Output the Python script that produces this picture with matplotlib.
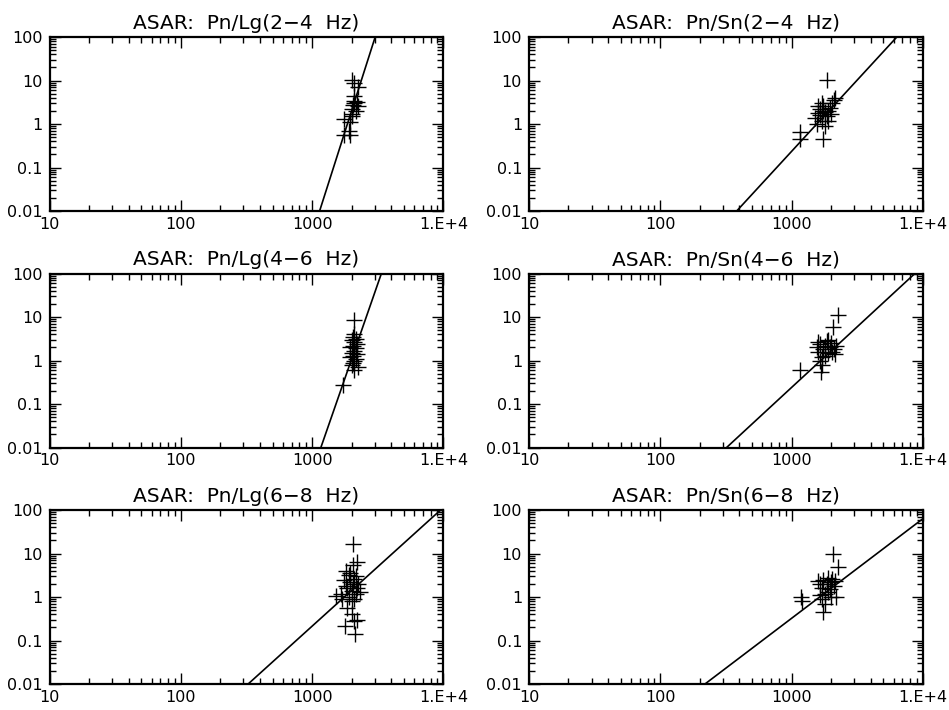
import numpy as np
import matplotlib
matplotlib.use("Agg")
import matplotlib.pyplot as plt
from matplotlib.ticker import LogLocator, NullFormatter

plt.rcParams['font.family'] = ['DejaVu Sans']

titles = ["ASAR:  Pn/Lg(2\u22124  Hz)", "ASAR:  Pn/Sn(2\u22124  Hz)",
          "ASAR:  Pn/Lg(4\u22126  Hz)", "ASAR:  Pn/Sn(4\u22126  Hz)",
          "ASAR:  Pn/Lg(6\u22128  Hz)", "ASAR:  Pn/Sn(6\u22128  Hz)"]

# fitted lines: log10(y) = a + b*log10(x)
fit_a = [-30.89, -10.47, -28.62, -8.99, -8.86, -7.36]
fit_b = [9.45, 3.28, 8.68, 2.79, 2.73, 2.29]

# Pn/Lg 2-4 Hz
x1 = [2000, 2100, 2250, 2070, 2250, 2000, 2015, 1740, 1740, 1950, 2100, 2150, 2000,
      1950, 2100, 2200, 2050, 1900]
y1 = [10.4, 9.0, 7.0, 3.4, 2.6, 2.2, 1.7, 1.3, 0.56, 0.56, 3.0, 2.0, 1.5,
      1.1, 4.5, 3.2, 2.8, 0.7]
# Pn/Sn 2-4 Hz
x2 = [1850, 1160, 1160, 1740, 1520, 1550, 1600, 1650, 1700, 1750, 1800, 1850, 1900,
      1950, 2000, 2100, 2150, 2050, 1700, 1800, 1650, 1750, 1900, 1600]
y2 = [10.5, 0.65, 0.45, 0.46, 1.4, 1.0, 1.8, 2.2, 3.0, 2.6, 1.9, 1.5, 2.0,
      2.4, 1.7, 3.5, 4.0, 3.0, 1.2, 0.9, 1.6, 2.0, 1.2, 2.6]
# Pn/Lg 4-6 Hz
x3 = [2070, 1730, 2100, 2050, 2150, 2000, 2100, 2200, 2050, 1950, 2150, 2100, 2000,
      2200, 2050, 1950, 2150, 2100, 2050, 2000, 2250, 2100]
y3 = [8.6, 0.27, 4.0, 3.5, 3.2, 3.0, 2.6, 2.4, 2.2, 2.0, 1.9, 1.7, 1.5,
      1.4, 1.3, 1.2, 1.1, 1.0, 0.9, 0.8, 0.7, 0.6]
# Pn/Sn 4-6 Hz
x4 = [2265, 2075, 1160, 1690, 1550, 1600, 1650, 1700, 1750, 1800, 1850, 1900, 1950,
      2000, 2100, 2200, 2150, 1700, 1650, 1800, 1900, 2050, 1600]
y4 = [11.4, 5.8, 0.6, 0.55, 2.0, 1.6, 2.4, 1.2, 1.8, 2.2, 2.8, 1.5, 2.0,
      2.5, 1.8, 2.2, 1.4, 0.8, 1.0, 1.3, 3.0, 1.6, 2.6]
# Pn/Lg 6-8 Hz
x5 = [2066, 1790, 2130, 2200, 2100, 2000, 1850, 1510, 1650, 1700, 1750, 1800, 1850,
      1900, 1950, 2000, 2050, 2100, 2150, 2200, 2250, 2300, 2000, 1950, 1800, 2100,
      2150, 1900, 2050, 2200]
y5 = [16.5, 0.22, 0.14, 0.3, 0.28, 0.4, 0.55, 1.05, 1.2, 0.9, 2.5, 4.0, 1.6,
      3.2, 2.2, 1.4, 5.5, 2.6, 1.2, 6.5, 2.0, 1.3, 0.8, 3.5, 1.8, 0.9,
      3.0, 1.0, 2.0, 1.6]
# Pn/Sn 6-8 Hz
x6 = [2075, 2265, 1190, 1200, 1740, 1600, 1650, 1700, 1750, 1800, 1850, 1900, 1950,
      2000, 2050, 2100, 2150, 2200, 1700, 1800, 1900, 2000, 1650]
y6 = [10.0, 4.9, 1.0, 0.8, 0.45, 2.3, 1.1, 1.6, 2.5, 1.2, 2.0, 2.8, 1.5,
      2.2, 2.6, 1.8, 2.4, 1.0, 0.9, 0.7, 1.3, 1.0, 2.0]

xs = [x1, x2, x3, x4, x5, x6]
ys = [y1, y2, y3, y4, y5, y6]

fig = plt.figure(figsize=(9.49, 7.10), dpi=100)
lefts = [0.0522, 0.5574]
width = 0.4150
bottoms = [0.7028, 0.3697, 0.0366]
height = 0.2450

xline = np.logspace(1, 4, 400)
for i in range(6):
    row, col = i // 2, i % 2
    ax = fig.add_axes([lefts[col], bottoms[row], width, height])
    ax.set_xscale('log')
    ax.set_yscale('log')
    ax.set_xlim(10, 1e4)
    ax.set_ylim(0.01, 100)
    ax.plot(xs[i], ys[i], '+', color='black', markersize=12, markeredgewidth=1.0)
    ax.plot(xline, 10 ** (fit_a[i] + fit_b[i] * np.log10(xline)), color='black', lw=1.2)
    ax.set_xticks([10, 100, 1000, 1e4], ['10', '100', '1000', '1.E+4'])
    ax.set_yticks([0.01, 0.1, 1, 10, 100], ['0.01', '0.1', '1', '10', '100'])
    ax.xaxis.set_minor_locator(LogLocator(base=10, subs=np.arange(2, 10), numticks=20))
    ax.yaxis.set_minor_locator(LogLocator(base=10, subs=np.arange(2, 10), numticks=20))
    ax.xaxis.set_minor_formatter(NullFormatter())
    ax.yaxis.set_minor_formatter(NullFormatter())
    ax.tick_params(which='both', direction='in', top=True, right=True, labelsize=11.5,
                   width=1.0, color='black')
    ax.tick_params(which='major', length=8)
    ax.tick_params(axis='x', which='major', pad=4)
    ax.tick_params(axis='y', which='major', pad=5)
    ax.tick_params(which='minor', length=4)
    for s in ax.spines.values():
        s.set_linewidth(1.6)
    ax.set_title(titles[i], fontsize=14.5, pad=6)

fig.savefig('out.png', dpi=100)
